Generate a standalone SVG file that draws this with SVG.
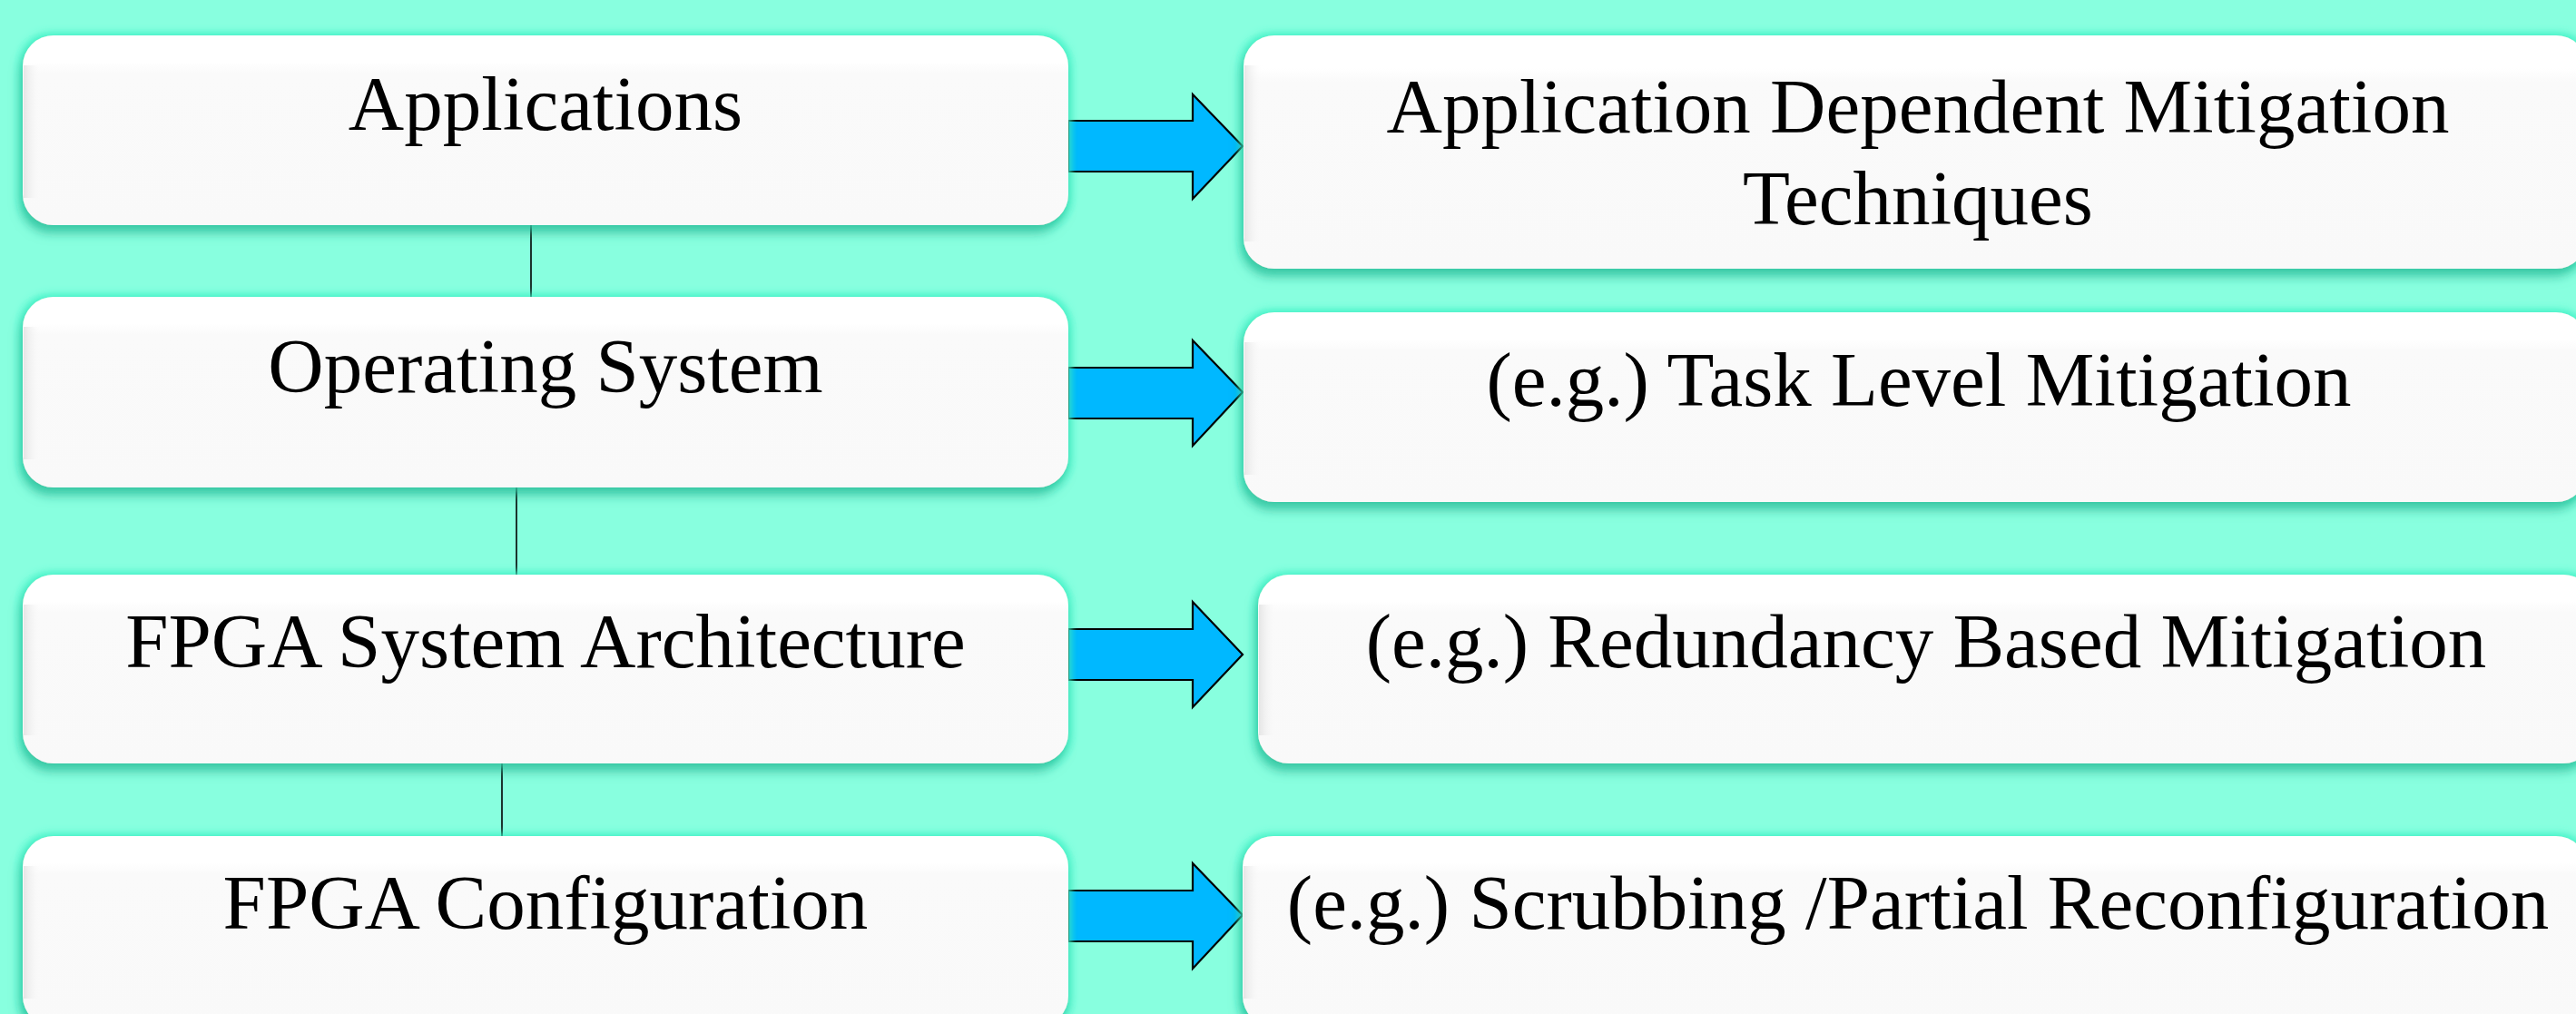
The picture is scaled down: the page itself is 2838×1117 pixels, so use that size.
<svg xmlns="http://www.w3.org/2000/svg" width="2838" height="1117" viewBox="0 0 2838 1117">
  <defs>
    <style>
      .box { fill: url(#boxFill); filter: url(#boxFx); }
      .edge { fill: url(#edgeShade); }
      .lbl { font-family: "Liberation Serif", "Times New Roman", serif; font-size: 85px; fill: #000; text-anchor: middle; }
      .link { stroke: #000; stroke-width: 1.6; fill: none; }
      .arrow { fill: #00B8FF; stroke: #000; stroke-width: 2.2; stroke-linejoin: miter; }
    </style>
    <!-- white top band fading into a very light grey body -->
    <linearGradient id="boxFill" x1="0" y1="0" x2="0" y2="1">
      <stop offset="0" stop-color="#ffffff"/>
      <stop offset="0.14" stop-color="#ffffff"/>
      <stop offset="0.2" stop-color="#fafafa"/>
      <stop offset="1" stop-color="#f9f9f9"/>
    </linearGradient>
    <!-- soft grey shading along the left edge of each box -->
    <linearGradient id="edgeShade" x1="0" y1="0" x2="1" y2="0">
      <stop offset="0" stop-color="#dcdcdc" stop-opacity="0.7"/>
      <stop offset="1" stop-color="#ffffff" stop-opacity="0"/>
    </linearGradient>
    <!-- bright halo around the box plus a darker drop shadow underneath -->
    <filter id="boxFx" x="-5%" y="-20%" width="110%" height="145%">
      <feMorphology in="SourceAlpha" operator="dilate" radius="3" result="grow"/>
      <feGaussianBlur in="grow" stdDeviation="4" result="halo"/>
      <feFlood flood-color="#3FF2C6" flood-opacity="0.9"/>
      <feComposite in2="halo" operator="in" result="haloC"/>
      <feGaussianBlur in="SourceAlpha" stdDeviation="6" result="sb"/>
      <feOffset in="sb" dx="-3" dy="9" result="so"/>
      <feFlood flood-color="#1f9a7c" flood-opacity="0.55"/>
      <feComposite in2="so" operator="in" result="shadow"/>
      <feMerge>
        <feMergeNode in="haloC"/>
        <feMergeNode in="shadow"/>
        <feMergeNode in="SourceGraphic"/>
      </feMerge>
    </filter>
  </defs>

  <rect width="2838" height="1117" fill="#88FFDF"/>

  <!-- vertical links between the layer boxes, and the block arrows -->
  <g id="connectors">
    <line class="link" x1="585" y1="248" x2="585" y2="327"/>
    <line class="link" x1="569" y1="537" x2="569" y2="633"/>
    <line class="link" x1="553" y1="841" x2="553" y2="921"/>
    <polygon class="arrow" points="1177,133 1314,133 1314,104 1369,161 1314,219 1314,189 1177,189"/>
    <polygon class="arrow" points="1177,405 1314,405 1314,375 1369,432 1314,491 1314,461 1177,461"/>
    <polygon class="arrow" points="1177,693 1314,693 1314,663 1369,721 1314,779 1314,749 1177,749"/>
    <polygon class="arrow" points="1177,981 1314,981 1314,951 1369,1008 1314,1067 1314,1037 1177,1037"/>
  </g>

  <!-- layer column -->
  <g id="applications">
    <rect class="box" x="25" y="39" width="1152" height="209" rx="34"/>
    <rect class="edge" x="26" y="72" width="20" height="146"/>
    <text class="lbl" x="601" y="143">Applications</text>
  </g>
  <g id="operating-system">
    <rect class="box" x="25" y="327" width="1152" height="210" rx="34"/>
    <rect class="edge" x="26" y="360" width="20" height="146"/>
    <text class="lbl" x="601" y="432">Operating System</text>
  </g>
  <g id="fpga-architecture">
    <rect class="box" x="25" y="633" width="1152" height="208" rx="34"/>
    <rect class="edge" x="26" y="666" width="20" height="144"/>
    <text class="lbl" x="601" y="735">FPGA System Architecture</text>
  </g>
  <g id="fpga-configuration">
    <rect class="box" x="25" y="921" width="1152" height="210" rx="34"/>
    <rect class="edge" x="26" y="954" width="20" height="146"/>
    <text class="lbl" x="601" y="1023">FPGA Configuration</text>
  </g>

  <!-- mitigation column -->
  <g id="app-mitigation">
    <rect class="box" x="1370" y="39" width="1480" height="257" rx="34"/>
    <rect class="edge" x="1371" y="72" width="20" height="194"/>
    <text class="lbl" x="2113" y="146">Application Dependent Mitigation</text>
    <text class="lbl" x="2113" y="247">Techniques</text>
  </g>
  <g id="task-mitigation">
    <rect class="box" x="1370" y="344" width="1480" height="209" rx="34"/>
    <rect class="edge" x="1371" y="377" width="20" height="146"/>
    <text class="lbl" x="2114" y="447">(e.g.) Task Level Mitigation</text>
  </g>
  <g id="redundancy-mitigation">
    <rect class="box" x="1386" y="633" width="1472" height="208" rx="34"/>
    <rect class="edge" x="1387" y="666" width="20" height="144"/>
    <text class="lbl" x="2122" y="735">(e.g.) Redundancy Based Mitigation</text>
  </g>
  <g id="scrubbing">
    <rect class="box" x="1369" y="921" width="1481" height="210" rx="34"/>
    <rect class="edge" x="1370" y="954" width="20" height="146"/>
    <text class="lbl" x="2113" y="1023">(e.g.) Scrubbing /Partial Reconfiguration</text>
  </g>
</svg>
